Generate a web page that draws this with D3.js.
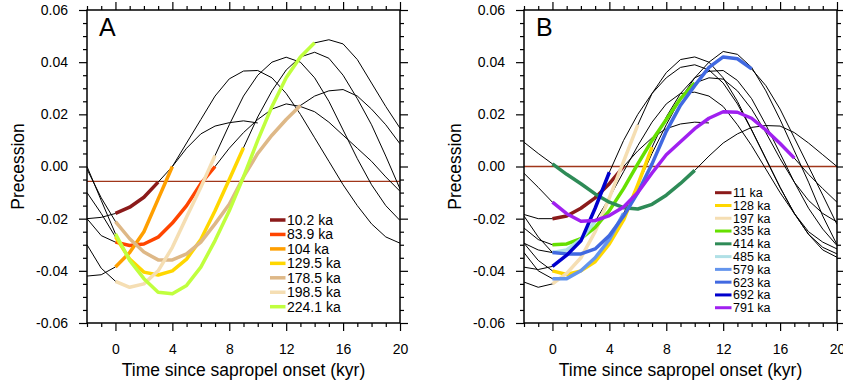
<!DOCTYPE html>
<html>
<head>
<meta charset="utf-8">
<script src="https://cdn.jsdelivr.net/npm/d3@7"></script>
<style>
  body { margin: 0; background: #fff; }
  text { font-family: "Liberation Sans", Arial, Helvetica, sans-serif; fill: #000; }
</style>
</head>
<body>
<svg id="chart" width="843" height="386"></svg>
<script>
// time axis (kyr since sapropel onset)
var timeKyr = [-2, -1, 0, 1, 2, 3, 4, 5, 6, 7, 8, 9, 10, 11, 12, 13, 14, 15, 16, 17, 18, 19, 20];
var xTicks = [0, 4, 8, 12, 16, 20];
var yTicks = [-0.06, -0.04, -0.02, 0, 0.02, 0.04, 0.06];

// Panel A precession curves
var a10_2  = [-0.020, -0.0195, -0.018, -0.0156, -0.0118, -0.006, 0.000, 0.007, 0.0125, 0.0155, 0.0168, 0.0175, 0.0167];
var a83_9  = [-0.020, -0.0265, -0.029, -0.0303, -0.0297, -0.0271, -0.0217, -0.015, -0.0066, 0.000, 0.007, 0.013, 0.018, 0.022, 0.024, 0.023, 0.021, 0.017, 0.012, 0.007, 0.002, -0.004, -0.0095];
var a104   = [-0.042, -0.0415, -0.0385, -0.033, -0.025, -0.0125, 0.000, 0.009, 0.018, 0.027, 0.0336, 0.0366, 0.0368, 0.034, 0.028, 0.020, 0.011, 0.002, -0.007, -0.015, -0.022, -0.027, -0.0294];
var a129_5 = [-0.010, -0.018, -0.027, -0.0355, -0.0405, -0.0416, -0.040, -0.0355, -0.028, -0.017, -0.005, 0.0072, 0.019, 0.029, 0.037, 0.042, 0.0438, 0.0415, 0.035, 0.026, 0.016, 0.004, -0.0086];
var a178_5 = [-0.001, -0.012, -0.0211, -0.0277, -0.0328, -0.0358, -0.0358, -0.0335, -0.029, -0.022, -0.0145, -0.004, 0.005, 0.012, 0.018, 0.0234, 0.027, 0.029, 0.0295, 0.027, 0.022, 0.016, 0.0087];
var a198_5 = [-0.030, -0.039, -0.044, -0.0463, -0.045, -0.040, -0.031, -0.0194, -0.008, 0.0042, 0.016, 0.027, 0.035, 0.040, 0.0419, 0.040, 0.034, 0.025, 0.014, 0.003, -0.007, -0.015, -0.0207];
var a224_1 = [0.000, -0.013, -0.0258, -0.036, -0.043, -0.0482, -0.0488, -0.0456, -0.0386, -0.0284, -0.017, -0.004, 0.010, 0.023, 0.034, 0.042, 0.0474, 0.0486, 0.047, 0.041, 0.032, 0.023, 0.0147];
var labelsA = ["10.2 ka", "83.9 ka", "104 ka", "129.5 ka", "178.5 ka", "198.5 ka", "224.1 ka"];
var endA = [3, 7, 4, 9, 13, 7, 14];   // end of sapropel (kyr)

// Panel B precession curves
var b11  = [-0.0184, -0.020, -0.020, -0.019, -0.016, -0.012, -0.0066, 0.000, 0.006, 0.011, 0.0145, 0.0163, 0.017, 0.0167];
var b128 = [-0.0294, -0.036, -0.040, -0.0414, -0.040, -0.0365, -0.0297, -0.0205, -0.007, 0.0074, 0.019, 0.028, 0.034, 0.0365, 0.0368, 0.033, 0.026, 0.016, 0.005, -0.006, -0.016, -0.024, -0.0303];
var b197 = [-0.0443, -0.0463, -0.045, -0.041, -0.035, -0.025, -0.012, 0.002, 0.016, 0.028, 0.036, 0.041, 0.042, 0.040, 0.034, 0.025, 0.014, 0.003, -0.008, -0.018, -0.026, -0.032, -0.0348];
var b335 = [-0.0236, -0.028, -0.030, -0.0297, -0.0277, -0.0233, -0.0169, -0.0085, 0.001, 0.010, 0.018, 0.026, 0.032, 0.034, 0.0335, 0.029, 0.022, 0.013, 0.003, -0.006, -0.013, -0.018, -0.0213];
var b414 = [0.0093, 0.005, 0.001, -0.003, -0.0066, -0.0105, -0.0137, -0.0158, -0.0163, -0.0145, -0.011, -0.0065, -0.0015, 0.004, 0.009, 0.0125, 0.015, 0.0157, 0.0155, 0.013, 0.009, 0.0045, 0.000];
var b485 = [-0.019, -0.027, -0.033, -0.032, -0.028, -0.021, -0.012, -0.002, 0.008, 0.017, 0.024, 0.028, 0.0285, 0.027, 0.023, 0.016, 0.008, -0.001, -0.010, -0.018, -0.025, -0.029, -0.0316];
var b579 = [-0.033, -0.040, -0.043, -0.043, -0.040, -0.035, -0.028, -0.018, -0.007, 0.005, 0.016, 0.026, 0.034, 0.040, 0.0441, 0.043, 0.038, 0.029, 0.018, 0.006, -0.006, -0.019, -0.030];
var b623 = [-0.0294, -0.032, -0.033, -0.0335, -0.0335, -0.0316, -0.0265, -0.019, -0.010, 0.001, 0.0135, 0.0235, 0.031, 0.038, 0.042, 0.0413, 0.0374, 0.031, 0.022, 0.011, 0.000, -0.011, -0.0222];
var b692 = [-0.0386, -0.0395, -0.0383, -0.034, -0.0285, -0.016, -0.0022, 0.010, 0.020, 0.028, 0.034, 0.038, 0.039, 0.037, 0.032, 0.024, 0.014, 0.003, -0.008, -0.018, -0.026, -0.031, -0.0335];
var b791 = [-0.0026, -0.008, -0.0137, -0.0181, -0.021, -0.0207, -0.0188, -0.0155, -0.010, -0.0025, 0.0045, 0.0095, 0.0145, 0.0185, 0.021, 0.0208, 0.0185, 0.014, 0.0088, 0.0032, -0.003, -0.0085, -0.0137];
var labelsB = ["11 ka", "128 ka", "197 ka", "335 ka", "414 ka", "485 ka", "579 ka", "623 ka", "692 ka", "791 ka"];
var endB = [5, 7, 6, 10, 10, 3, 5, 14, 4, 17];

var thresholdA = -0.0057;
var thresholdB = 0.0;

var colorsA = ["#8b1a1a", "#ff4500", "#ff9f00", "#ffd700", "#deb887", "#f5deb3", "#c0ff3e"];
var colorsB = ["#8b1a1a", "#ffd700", "#f5deb3", "#66e000", "#2e8b57", "#b0e0e6", "#6495ed", "#4169e1", "#0000cd", "#a020f0"];

var svg = d3.select("#chart");
var panelW = 313, panelH = 313;

function drawPanel(opt) {
    var g = svg.append("g")
        .attr("transform", "translate(" + opt.left + "," + opt.top + ")");

    var x = d3.scaleLinear().domain([-2, 20]).range([0, panelW]);
    var y = d3.scaleLinear().domain([-0.06, 0.06]).range([panelH, 0]);

    var clipId = "clip" + opt.name;
    g.append("clipPath").attr("id", clipId)
        .append("rect").attr("width", panelW).attr("height", panelH);

    var plot = g.append("g").attr("clip-path", "url(#" + clipId + ")");

    var line = d3.line()
        .x(d => x(d.t))
        .y(d => y(d.v));

    var series = opt.data.map(function(vals, i) {
        return {
            pts: vals.map((v, j) => ({t: timeKyr[j], v: v})),
            end: opt.ends[i],
            color: opt.colors[i]
        };
    });

    // threshold line
    plot.append("line")
        .attr("x1", 0).attr("x2", panelW)
        .attr("y1", y(opt.threshold)).attr("y2", y(opt.threshold))
        .attr("stroke", "#a0361a")
        .attr("stroke-width", 1.4);

    // full precession curves in black
    plot.selectAll("path.full")
        .data(series)
        .enter()
        .append("path")
        .attr("class", "full")
        .attr("d", d => line(d.pts))
        .attr("fill", "none")
        .attr("stroke", "#000")
        .attr("stroke-width", 1);

    // sapropel interval in colour
    plot.selectAll("path.sap")
        .data(series)
        .enter()
        .append("path")
        .attr("class", "sap")
        .attr("d", d => line(d.pts.filter(p => p.t >= 0 && p.t <= d.end)))
        .attr("fill", "none")
        .attr("stroke", d => d.color)
        .attr("stroke-width", 3.5)
        .attr("stroke-linejoin", "round");

    // axes: major + minor ticks on all four sides
    var xMinor = timeKyr.filter(t => xTicks.indexOf(t) < 0);
    var yMinor = d3.range(-60, 61, 5).filter(v => v % 20 !== 0).map(v => v / 1000);

    function styleAxis(sel) {
        sel.select(".domain").remove();
        sel.selectAll("line").attr("stroke", "#000").attr("stroke-width", 1.2);
        sel.selectAll("text").style("font-size", "14px");
    }

    g.append("g").attr("transform", "translate(0," + panelH + ")")
        .call(d3.axisBottom(x).tickValues(xTicks).tickSize(8).tickPadding(13).tickFormat(d3.format("d")))
        .call(styleAxis);
    g.append("g").attr("transform", "translate(0," + panelH + ")")
        .call(d3.axisBottom(x).tickValues(xMinor).tickSize(4).tickFormat(""))
        .call(styleAxis);
    g.append("g")
        .call(d3.axisTop(x).tickValues(xTicks).tickSize(8).tickFormat(""))
        .call(styleAxis);
    g.append("g")
        .call(d3.axisTop(x).tickValues(xMinor).tickSize(4).tickFormat(""))
        .call(styleAxis);

    g.append("g")
        .call(d3.axisLeft(y).tickValues(yTicks).tickSize(8).tickPadding(11).tickFormat(d => d.toFixed(2)))
        .call(styleAxis);
    g.append("g")
        .call(d3.axisLeft(y).tickValues(yMinor).tickSize(4).tickFormat(""))
        .call(styleAxis);
    g.append("g").attr("transform", "translate(" + panelW + ",0)")
        .call(d3.axisRight(y).tickValues(yTicks).tickSize(8).tickFormat(""))
        .call(styleAxis);
    g.append("g").attr("transform", "translate(" + panelW + ",0)")
        .call(d3.axisRight(y).tickValues(yMinor).tickSize(4).tickFormat(""))
        .call(styleAxis);

    // frame
    g.append("rect")
        .attr("width", panelW).attr("height", panelH)
        .attr("fill", "none")
        .attr("stroke", "#000")
        .attr("stroke-width", 1.5);

    // panel letter
    g.append("text")
        .attr("x", 12).attr("y", 26)
        .style("font-size", "25px")
        .text(opt.name);

    // axis titles
    g.append("text")
        .attr("x", panelW / 2).attr("y", panelH + 53)
        .style("text-anchor", "middle")
        .style("font-size", "17.5px")
        .text("Time since sapropel onset (kyr)");

    g.append("text")
        .attr("transform", "rotate(-90)")
        .attr("x", -panelH / 2).attr("y", -69)
        .attr("dy", "0.35em")
        .style("text-anchor", "middle")
        .style("font-size", "17.5px")
        .text("Precession");

    // legend
    var legend = g.append("g")
        .attr("transform", "translate(" + opt.legX + "," + opt.legY + ")");

    legend.selectAll("line")
        .data(opt.labels)
        .enter()
        .append("line")
        .attr("x1", 0).attr("x2", opt.legLen)
        .attr("y1", (d, i) => i * opt.legStep)
        .attr("y2", (d, i) => i * opt.legStep)
        .attr("stroke", (d, i) => opt.colors[i])
        .attr("stroke-width", opt.legWidth);

    legend.selectAll("text")
        .data(opt.labels)
        .enter()
        .append("text")
        .attr("x", opt.legLen + 1.5)
        .attr("y", (d, i) => i * opt.legStep)
        .attr("dy", "0.35em")
        .style("font-size", opt.legFont)
        .text(d => d);
}

drawPanel({
    name: "A", left: 87, top: 10,
    data: [a10_2, a83_9, a104, a129_5, a178_5, a198_5, a224_1],
    ends: endA, colors: colorsA, labels: labelsA,
    threshold: thresholdA,
    legX: 183, legY: 210, legStep: 14.45, legLen: 15.5, legWidth: 3.5, legFont: "14px"
});

drawPanel({
    name: "B", left: 524, top: 10,
    data: [b11, b128, b197, b335, b414, b485, b579, b623, b692, b791],
    ends: endB, colors: colorsB, labels: labelsB,
    threshold: thresholdB,
    legX: 191, legY: 182.7, legStep: 12.78, legLen: 16.5, legWidth: 3, legFont: "12.5px"
});
</script>
</body>
</html>
